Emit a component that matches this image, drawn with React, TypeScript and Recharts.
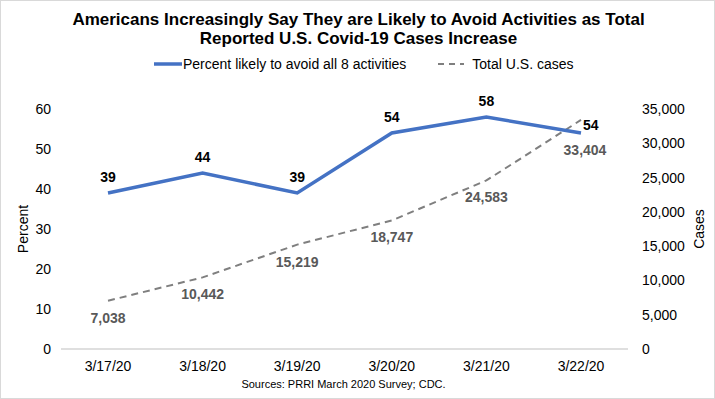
import { LineChart, Line, XAxis, YAxis, LabelList } from 'recharts'

const dates = ['3/17/20', '3/18/20', '3/19/20', '3/20/20', '3/21/20', '3/22/20']
const percentAvoid = [39, 44, 39, 54, 58, 54]
const totalCases = [7038, 10442, 15219, 18747, 24583, 33404]
const percentTicks = [0, 10, 20, 30, 40, 50, 60]
const caseTicks = [0, 5000, 10000, 15000, 20000, 25000, 30000, 35000]

const data = dates.map((d, i) => ({ date: d, pct: percentAvoid[i], cases: totalCases[i] }))

const FONT = '"Liberation Sans", Arial, sans-serif'
const BLUE = '#4472C4'
const GREY = '#7F7F7F'

function PctLabel(props: any) {
  const { x, y, value, index } = props
  // last point: Excel put it to the right
  if (index === data.length - 1) {
    return (
      <text x={x + 2} y={y - 8} fontSize={14} fontWeight="bold" fill="#000" fontFamily={FONT} dominantBaseline="central">
        {value}
      </text>
    )
  }
  return (
    <text x={x} y={y - 16} fontSize={14} fontWeight="bold" fill="#000" fontFamily={FONT} textAnchor="middle" dominantBaseline="central">
      {value}
    </text>
  )
}

function CaseLabel(props: any) {
  const { x, y, value, index } = props
  const dy = index === data.length - 1 ? 30 : 17
  return (
    <text x={x + (index === data.length - 1 ? 4 : 0)} y={y + dy} fontSize={14} fontWeight="bold" fill="#595959" fontFamily={FONT} textAnchor="middle" dominantBaseline="central">
      {Number(value).toLocaleString('en-US')}
    </text>
  )
}

export default function App() {
  return (
    <div
      style={{
        position: 'absolute', left: 0, top: 0, width: 713, height: 397,
        border: '1px solid #d9d9d9', background: '#fff', fontFamily: FONT,
      }}
    >
      <div style={{ position: 'absolute', left: 0, top: 9, width: 715, textAlign: 'center', fontSize: 17, fontWeight: 'bold', lineHeight: '19px', color: '#000' }}>
        Americans Increasingly Say They are Likely to Avoid Activities as Total
        <br />
        Reported U.S. Covid-19 Cases Increase
      </div>

      {/* legend */}
      <div style={{ position: 'absolute', left: 153, top: 55, display: 'flex', alignItems: 'center', fontSize: 14, color: '#000' }}>
        <svg width={28} height={10}>
          <line x1={0} y1={5} x2={28} y2={5} stroke={BLUE} strokeWidth={3.5} />
        </svg>
        <span style={{ marginLeft: 1 }}>Percent likely to avoid all 8 activities</span>
        <svg width={26} height={10} style={{ marginLeft: 32 }}>
          <line x1={0} y1={5} x2={26} y2={5} stroke={GREY} strokeWidth={2} strokeDasharray="6 5" />
        </svg>
        <span style={{ marginLeft: 8 }}>Total U.S. cases</span>
      </div>

      <div style={{ position: 'absolute', left: 0, top: 0 }}>
        <LineChart width={715} height={399} data={data} margin={{ top: 108, right: 18, bottom: 21, left: 15 }}>
          <XAxis
            dataKey="date"
            padding={{ left: 47, right: 47 }}
            tickLine={false}
            axisLine={{ stroke: '#BFBFBF', strokeWidth: 1 }}
            tick={{ fontSize: 14, fill: '#000', fontFamily: FONT }}
            tickMargin={6}
            interval={0}
          />
          <YAxis
            yAxisId="left"
            width={45}
            domain={[0, 60]}
            ticks={percentTicks}
            axisLine={false}
            tickLine={false}
            tickSize={0}
            tickMargin={10}
            tick={{ fontSize: 14, fill: '#000', fontFamily: FONT }}
            label={{ value: 'Percent', angle: -90, position: 'insideLeft', offset: 7, style: { fontSize: 14, fill: '#000', fontFamily: FONT, textAnchor: 'middle' } }}
          />
          <YAxis
            yAxisId="right"
            orientation="right"
            width={70}
            domain={[0, 35000]}
            ticks={caseTicks}
            axisLine={false}
            tickLine={false}
            tickSize={0}
            tickMargin={14}
            tickFormatter={(v: number) => v.toLocaleString('en-US')}
            tick={{ fontSize: 14, fill: '#000', fontFamily: FONT }}
            label={{ value: 'Cases', angle: -90, position: 'insideRight', offset: -1, style: { fontSize: 14, fill: '#000', fontFamily: FONT, textAnchor: 'middle' } }}
          />
          <Line
            yAxisId="right"
            dataKey="cases"
            stroke={GREY}
            strokeWidth={2}
            strokeDasharray="7 5"
            dot={false}
            isAnimationActive={false}
          >
            <LabelList dataKey="cases" content={CaseLabel} />
          </Line>
          <Line
            yAxisId="left"
            dataKey="pct"
            stroke={BLUE}
            strokeWidth={3.5}
            dot={false}
            isAnimationActive={false}
          >
            <LabelList dataKey="pct" content={PctLabel} />
          </Line>
        </LineChart>
      </div>

      <div style={{ position: 'absolute', left: 0, top: 377, width: 685, textAlign: 'center', fontSize: 11, color: '#000' }}>
        Sources: PRRI March 2020 Survey; CDC.
      </div>
    </div>
  )
}
